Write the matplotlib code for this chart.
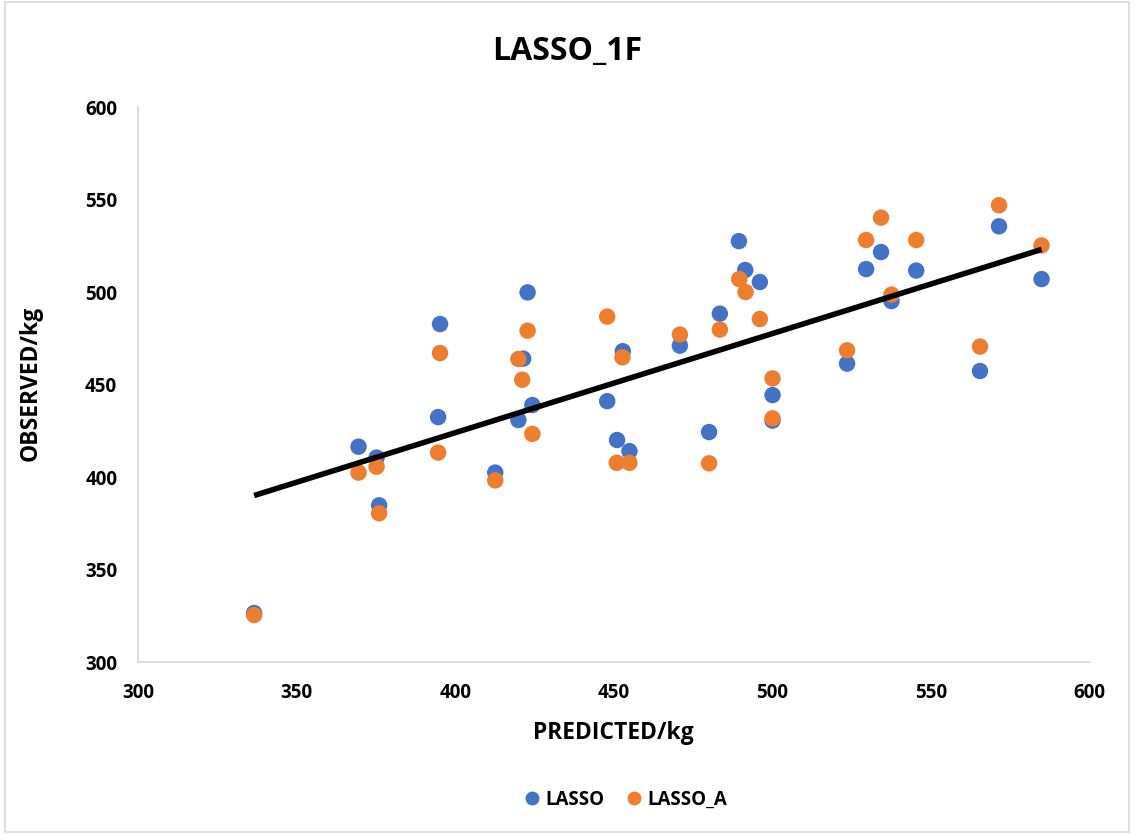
import matplotlib
matplotlib.use("Agg")
import matplotlib.pyplot as plt
from matplotlib.lines import Line2D
from matplotlib.patches import Rectangle

# predicted (x) and observed (y) values
lasso_x = [336.6, 369.5, 375.2, 376.0, 394.6, 395.2, 412.6, 419.9, 421.4, 422.8,
           424.3, 447.9, 451.0, 452.8, 454.9, 470.8, 480.0, 483.4, 489.4, 491.4,
           496.0, 500.0, 500.0, 523.5, 529.5, 534.2, 537.5, 545.3, 565.4, 571.4,
           584.8]
lasso_y = [326.5, 416.4, 410.5, 384.7, 432.4, 482.7, 402.4, 430.8, 464.0, 499.8,
           438.9, 441.0, 420.0, 468.0, 414.0, 471.0, 424.3, 488.3, 527.5, 511.9,
           505.4, 444.3, 430.5, 461.3, 512.4, 521.6, 495.1, 511.6, 457.3, 535.5,
           507.0]

lasso_a_x = [336.6, 369.5, 375.2, 376.0, 394.6, 395.2, 412.6, 419.9, 421.1, 422.8,
             424.3, 447.9, 450.9, 452.7, 454.9, 470.8, 480.0, 483.4, 489.5, 491.5,
             496.0, 500.0, 500.0, 523.5, 529.5, 534.2, 537.5, 545.3, 565.4, 571.4,
             584.8]
lasso_a_y = [325.4, 402.4, 405.6, 380.4, 413.2, 467.0, 398.2, 463.8, 452.6, 479.1,
             423.3, 486.7, 407.7, 464.7, 407.7, 477.0, 407.4, 479.7, 507.0, 500.0,
             485.4, 453.3, 431.7, 468.5, 528.1, 540.2, 498.6, 528.1, 470.5, 546.9,
             525.2]

trend_x = [336.6, 584.8]
trend_y = [390.0, 523.0]

BLUE = "#4472C4"
ORANGE = "#ED7D31"

plt.rcParams["font.family"] = ["Open Sans", "DejaVu Sans"]
plt.rcParams["font.weight"] = "bold"

fig = plt.figure(figsize=(11.34, 8.34), dpi=100)
ax = fig.add_axes([0.1217, 0.2062, 0.8393, 0.6655])

ax.scatter(lasso_x, lasso_y, s=140, color=BLUE, edgecolors="none", zorder=3)
ax.scatter(lasso_a_x, lasso_a_y, s=140, color=ORANGE, edgecolors="none", zorder=4)
ax.plot(trend_x, trend_y, color="black", linewidth=4, zorder=5, solid_capstyle="butt")

ax.set_xlim(300, 600)
ax.set_ylim(300, 600)
ax.set_xticks(range(300, 601, 50))
ax.set_yticks(range(300, 601, 50))
ax.tick_params(length=0, labelsize=13.5, pad=15)
for lab in ax.get_xticklabels() + ax.get_yticklabels():
    lab.set_fontweight("bold")
for side in ("top", "right"):
    ax.spines[side].set_visible(False)
for side in ("left", "bottom"):
    ax.spines[side].set_color("#d9d9d9")
    ax.spines[side].set_linewidth(1.2)

fig.text(0.5, 0.938, "LASSO_1F", ha="center", va="center", fontsize=23, fontweight="bold")
fig.text(0.541, 0.121, "PREDICTED/kg", ha="center", va="center", fontsize=16.5, fontweight="bold")
fig.text(0.027, 0.54, "OBSERVED/kg", ha="center", va="center", rotation=90,
         fontsize=16.5, fontweight="bold")

handles = [
    Line2D([], [], marker="o", linestyle="none", markersize=10, color=BLUE,
           markeredgecolor="none", label="LASSO"),
    Line2D([], [], marker="o", linestyle="none", markersize=10, color=ORANGE,
           markeredgecolor="none", label="LASSO_A"),
]
fig.legend(handles=handles, loc="center", bbox_to_anchor=(0.552, 0.041), ncol=2,
           frameon=False, handlelength=0.8, handletextpad=0.3, columnspacing=1.2,
           prop={"size": 13.5, "weight": "bold"})

fig.patches.append(Rectangle((0.004, 0.002), 0.992, 0.996, transform=fig.transFigure,
                             fill=False, edgecolor="#d9d9d9", linewidth=1.2))

fig.savefig("out.png", dpi=100)
